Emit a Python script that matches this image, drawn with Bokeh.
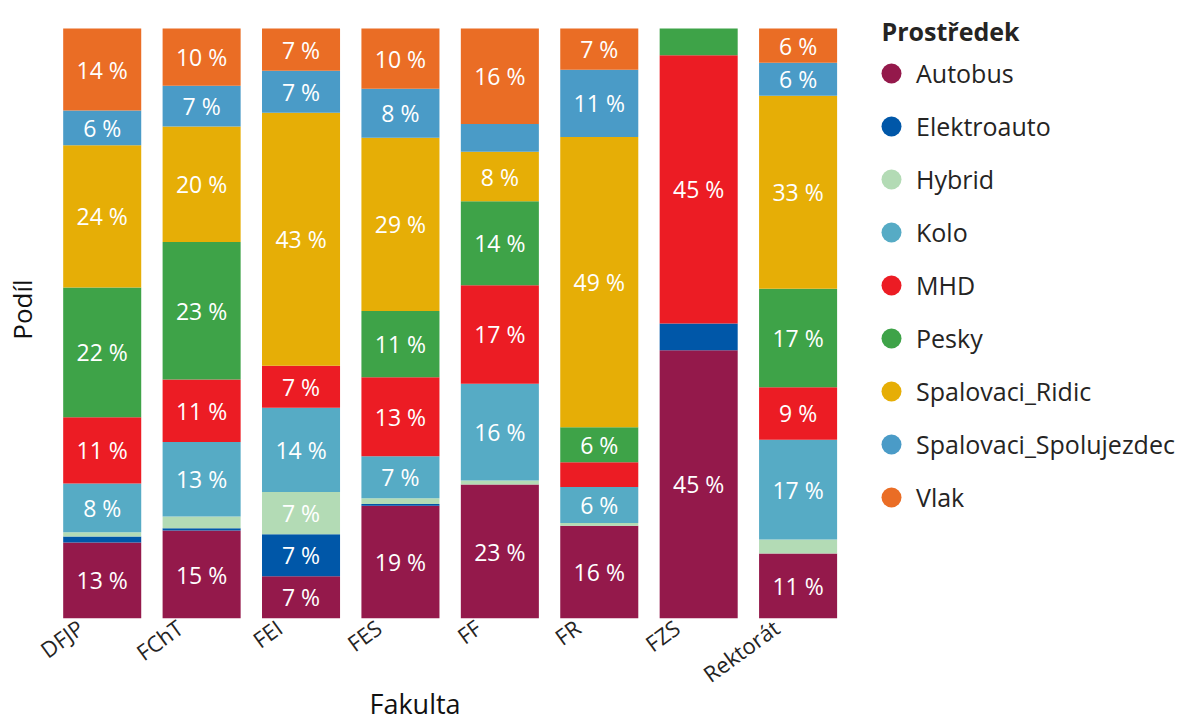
from bokeh.plotting import figure
from bokeh.models import (ColumnDataSource, Range1d, Legend, LegendItem, FixedTicker,
                          Label, Title)
from bokeh.core.properties import value
from bokeh.embed import file_html
from bokeh.resources import INLINE

faculties = ["DFJP", "FChT", "FEI", "FES", "FF", "FR", "FZS", "Rektorát"]
modes = ["Autobus", "Elektroauto", "Hybrid", "Kolo", "MHD", "Pesky",
         "Spalovaci_Ridic", "Spalovaci_Spolujezdec", "Vlak"]
colors = ["#94194B", "#0057A8", "#B3DBB5", "#56ABC5", "#EC1C24", "#3EA348",
          "#E6AE06", "#4A9BC7", "#EA6D25"]

autobus = [12.9, 14.9, 7.14, 19.1, 22.7, 15.7, 45.45, 11.0]
elektroauto = [1.0, 0.4, 7.14, 0.3, 0.0, 0.0, 4.55, 0.0]
hybrid = [0.7, 2.0, 7.14, 1.0, 0.7, 0.5, 0.0, 2.4]
kolo = [8.3, 12.6, 14.29, 7.1, 16.4, 6.1, 0.0, 16.9]
mhd = [11.2, 10.6, 7.14, 13.4, 16.7, 4.2, 45.45, 8.9]
pesky = [22.0, 23.3, 0.0, 11.2, 14.2, 5.9, 4.55, 16.7]
spalovaci_ridic = [24.1, 19.6, 42.86, 29.4, 8.4, 49.2, 0.0, 32.7]
spalovaci_spolujezdec = [5.9, 6.9, 7.14, 8.3, 4.7, 11.4, 0.0, 5.6]
vlak = [13.9, 9.7, 7.14, 10.2, 16.2, 7.0, 0.0, 5.8]

series = [autobus, elektroauto, hybrid, kolo, mhd, pesky,
          spalovaci_ridic, spalovaci_spolujezdec, vlak]

FONT = "Open Sans"
W, H = 1184, 722
LEFT, BOTTOM = 51, 104          # borders around the plotting frame
BAR_PITCH = 99.5                # pixels per faculty slot
BAR_SHIFT = 0.22                # bars sit right of the rotated tick labels' anchor
BAR_WIDTH = 0.785
n = len(faculties)

xpos = [i + BAR_SHIFT for i in range(n)]
data = {"x": xpos, "Fakulta": faculties}
for m, vals in zip(modes, series):
    data[m] = vals
source = ColumnDataSource(data)

x0 = BAR_SHIFT - 0.5
x1 = x0 + (W - LEFT) / BAR_PITCH
frame_h = H - BOTTOM
p = figure(x_range=Range1d(x0, x1), y_range=Range1d(0, 100 * frame_h / 590),
           width=W, height=H, output_backend="svg", toolbar_location=None,
           min_border_left=LEFT, min_border_right=0, min_border_top=0,
           min_border_bottom=BOTTOM)
p.outline_line_color = None
p.xgrid.visible = False
p.ygrid.visible = False

p.vbar_stack(modes, x="x", width=BAR_WIDTH, fill_color=colors,
             line_color=None, source=source)

# data labels (segment midpoints)
lx, ly, lt = [], [], []
cum = [0.0] * n
mids = {}
for m, s in zip(modes, series):
    mids[m] = [cum[j] + s[j] / 2 for j in range(n)]
    for j in range(n):
        if s[j] >= 5:
            lx.append(xpos[j])
            ly.append(mids[m][j])
            lt.append(f"{s[j]:.0f} %")
    cum = [cum[j] + s[j] for j in range(n)]
p.text(x=lx, y=ly, text=lt, text_align="center", text_baseline="middle",
       text_color="white", text_font=value(FONT), text_font_size="23px")

# x axis
xa = p.xaxis[0]
xa.ticker = FixedTicker(ticks=list(range(n)))
xa.major_label_overrides = {i: f for i, f in enumerate(faculties)}
xa.major_label_orientation = 0.63
xa.major_label_text_font = FONT
xa.major_label_text_font_size = "22px"
xa.major_label_text_color = "#252423"
xa.axis_line_color = None
xa.major_tick_line_color = None
xa.minor_tick_line_color = None
xa.major_label_standoff = 0

p.add_layout(Title(text="Fakulta", align="left", offset=317, vertical_align="middle",
                   standoff=-39, text_font=FONT, text_font_size="27px",
                   text_font_style="normal", text_color="#111111"), "below")

# y axis
ya = p.yaxis[0]
ya.ticker = FixedTicker(ticks=[])
ya.axis_line_color = None
ya.major_tick_line_color = None
ya.minor_tick_line_color = None
ya.major_label_standoff = 0
ya.axis_label = "Podíl"
ya.axis_label_text_font = FONT
ya.axis_label_text_font_size = "26px"
ya.axis_label_text_font_style = "normal"
ya.axis_label_text_color = "#111111"
ya.axis_label_standoff = 13

# legend (circle swatches: zero-size markers used only as legend glyphs)
items = []
for m, c in zip(modes, colors):
    r = p.scatter(x=xpos, y=mids[m], marker="circle", size=0, fill_color=c,
                  line_color=None)
    items.append(LegendItem(label=m, renderers=[r]))
legend = Legend(items=items, location=(814, 95), glyph_width=50, glyph_height=52,
                label_standoff=0, spacing=1, padding=0, margin=0,
                border_line_color=None, background_fill_alpha=0,
                label_text_font=FONT, label_text_font_size="25px",
                label_text_color="#252423")
p.add_layout(legend)

p.add_layout(Label(x=829, y=frame_h - 30, x_units="screen", y_units="screen",
                   text="Prostředek", text_font=FONT, text_font_style="bold",
                   text_font_size="25px", text_color="#252423",
                   text_baseline="middle", text_align="left"))

open("out.html", "w").write(file_html(p, INLINE))
